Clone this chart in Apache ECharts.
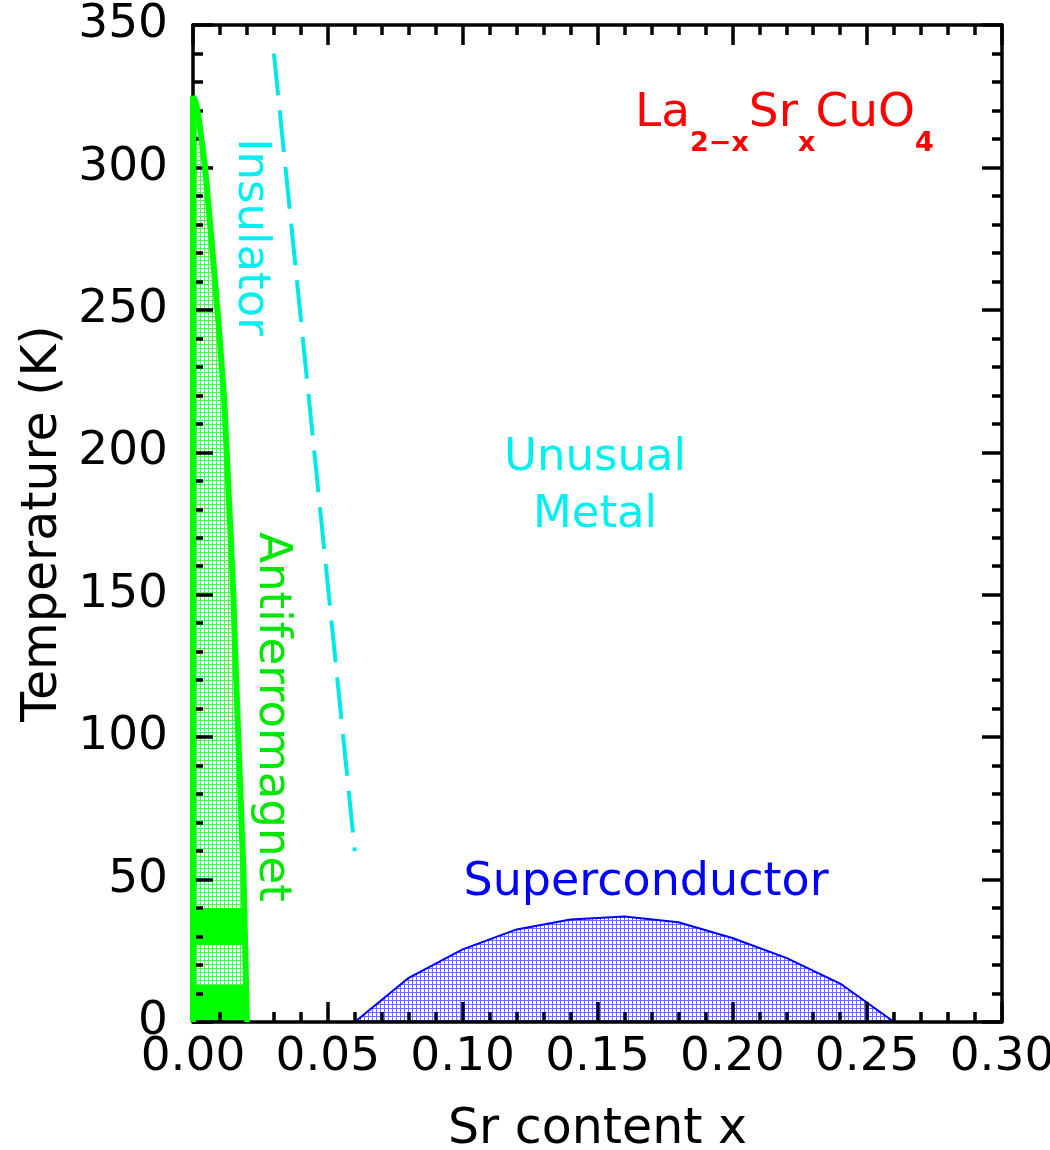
<!DOCTYPE html>
<html>
<head>
<meta charset="utf-8">
<script src="https://cdn.jsdelivr.net/npm/echarts@6/dist/echarts.min.js"></script>
<style>
  html, body { margin: 0; padding: 0; background: #fff; }
  #chart { width: 1050px; height: 1150px; }
</style>
</head>
<body>
<div id="chart"></div>
<script>
// Neel temperature boundary (antiferromagnet)
const afX = [0, 0, 0.001, 0.002, 0.003, 0.0045, 0.006, 0.008, 0.0095, 0.0116, 0.014, 0.015, 0.0156, 0.017, 0.0187, 0.020];
const afT = [0, 325, 323, 318, 311, 300, 284, 262, 245, 218, 170, 149, 131, 95, 53, 0];
// solid green bands inside the antiferromagnet region (K)
const afSolidBands = [[0, 13], [27, 40]];
// superconducting dome
const scX = [0.06, 0.08, 0.10, 0.12, 0.14, 0.16, 0.18, 0.20, 0.22, 0.24, 0.26];
const scT = [0, 15.5, 25.5, 32.5, 36, 37, 35, 29.5, 22.5, 13.5, 0];
// insulator crossover (dashed)
const insX = [0.03, 0.06];
const insT = [340, 60];
// axes
const xRange = [0, 0.30];
const yRange = [0, 350];
const xStep = 0.05;
const yStep = 50;

const FONT = 'DejaVu Sans';

function pair(xs, ys) {
    return xs.map((x, i) => [x, ys[i]]);
}

// white cells with thin coloured grid lines, like the hatched fill
function gridPattern(lineColor, size) {
    const c = document.createElement('canvas');
    c.width = size; c.height = size;
    const g = c.getContext('2d');
    g.fillStyle = '#ffffff';
    g.fillRect(0, 0, size, size);
    g.fillStyle = lineColor;
    g.fillRect(0, 0, size, 1);
    g.fillRect(0, 0, 1, size);
    return c;
}

function axis(kind, position, showLabel, extra) {
    const range = kind === 'x' ? xRange : yRange;
    return Object.assign({
        type: 'value',
        position: position,
        min: range[0],
        max: range[1],
        interval: kind === 'x' ? xStep : yStep,
        z: 3,
        axisLine: { show: true, onZero: false, lineStyle: { color: '#000', width: 3.5 } },
        axisTick: { show: true, inside: true, length: 20, lineStyle: { color: '#000', width: 3.5 } },
        minorTick: { show: true, splitNumber: 5, length: 10, lineStyle: { color: '#000', width: 3.5 } },
        splitLine: { show: false },
        minorSplitLine: { show: false },
        axisLabel: {
            show: showLabel,
            fontFamily: FONT,
            fontSize: 47,
            color: '#000',
            margin: kind === 'x' ? 12 : 25,
            formatter: v => kind === 'x' ? v.toFixed(2) : String(Math.round(v))
        }
    }, extra || {});
}

const chart = echarts.init(document.getElementById('chart'), null, { renderer: 'canvas' });

const afEdge = afX[afX.length - 1];

chart.setOption({
    animation: false,
    backgroundColor: '#ffffff',
    grid: { left: 193, top: 25, right: 48, bottom: 128, outerBoundsMode: 'none', containLabel: false },
    xAxis: [
        axis('x', 'bottom', true, {
            name: 'Sr content x',
            nameLocation: 'middle',
            nameGap: 84,
            nameTextStyle: { fontFamily: FONT, fontSize: 49, color: '#000' }
        }),
        axis('x', 'top', false)
    ],
    yAxis: [
        axis('y', 'left', true, {
            name: 'Temperature (K)',
            nameLocation: 'middle',
            nameGap: 124,
            nameTextStyle: { fontFamily: FONT, fontSize: 49, color: '#000' }
        }),
        axis('y', 'right', false)
    ],
    series: [
        {
            name: 'afFill',
            type: 'line',
            data: pair(afX, afT),
            symbol: 'none',
            z: 1,
            lineStyle: { width: 0 },
            areaStyle: { color: { image: gridPattern('#55f055', 4), repeat: 'repeat' }, opacity: 1 }
        },
        {
            name: 'afBands',
            type: 'custom',
            z: 2,
            data: afSolidBands.map(b => [0, b[0], b[1]]),
            encode: { x: 0, y: [1, 2] },
            renderItem: function (params, api) {
                const topLeft = api.coord([0, api.value(2)]);
                const bottomRight = api.coord([afEdge, api.value(1)]);
                return {
                    type: 'rect',
                    shape: {
                        x: topLeft[0],
                        y: topLeft[1],
                        width: bottomRight[0] - topLeft[0],
                        height: bottomRight[1] - topLeft[1]
                    },
                    style: { fill: '#00ff00' }
                };
            }
        },
        {
            name: 'Antiferromagnet',
            type: 'line',
            data: pair(afX, afT),
            symbol: 'none',
            clip: false,
            z: 5,
            lineStyle: { color: '#00ff00', width: 6 }
        },
        {
            name: 'Superconductor',
            type: 'line',
            data: pair(scX, scT),
            symbol: 'none',
            z: 1,
            lineStyle: { color: '#0000ff', width: 2 },
            areaStyle: { color: { image: gridPattern('#6a6aff', 4), repeat: 'repeat' }, opacity: 1 }
        },
        {
            name: 'Insulator',
            type: 'line',
            data: pair(insX, insT),
            symbol: 'none',
            z: 4,
            lineStyle: { color: '#00e8e8', width: 4, type: [42, 15] }
        }
    ],
    graphic: [
        {
            type: 'text', x: 251, y: 237, rotation: -Math.PI / 2,
            style: { text: 'Insulator', fill: '#00f0f0', fontFamily: FONT, fontSize: 45, align: 'center', verticalAlign: 'middle' }
        },
        {
            type: 'text', x: 272, y: 717, rotation: -Math.PI / 2,
            style: { text: 'Antiferromagnet', fill: '#00e600', fontFamily: FONT, fontSize: 45, align: 'center', verticalAlign: 'middle' }
        },
        {
            type: 'text', x: 595, y: 487,
            style: { text: 'Unusual\nMetal', fill: '#00f0f0', fontFamily: FONT, fontSize: 45, lineHeight: 57, align: 'center', verticalAlign: 'middle' }
        },
        {
            type: 'text', x: 646, y: 883,
            style: { text: 'Superconductor', fill: '#0000ff', fontFamily: FONT, fontSize: 46, align: 'center', verticalAlign: 'middle' }
        },
        {
            type: 'text', x: 635, y: 90,
            style: {
                text: '{m|La}{s|2\u2212x}{m|Sr}{s|x}{m|CuO}{s|4}',
                fill: '#ff0000',
                align: 'left',
                verticalAlign: 'top',
                rich: {
                    m: { fill: '#ff0000', fontFamily: FONT, fontSize: 47, lineHeight: 50, verticalAlign: 'top' },
                    s: { fill: '#ff0000', fontFamily: FONT, fontSize: 27, fontWeight: 'bold', lineHeight: 30, padding: [40, 0, 0, 0], verticalAlign: 'top' }
                }
            }
        }
    ]
});
</script>
</body>
</html>
